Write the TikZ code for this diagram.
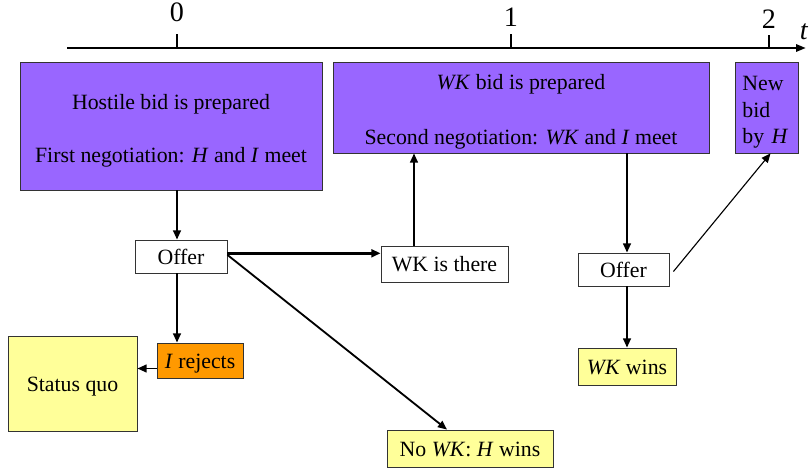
\documentclass[tikz,border=0pt]{standalone}
\usepackage{fontspec}
\setmainfont{Liberation Serif}
\usetikzlibrary{arrows.meta}
\definecolor{boxpurple}{HTML}{9966FF}
\definecolor{boxyellow}{HTML}{FFFF99}
\definecolor{boxorange}{HTML}{FF9900}
\definecolor{boxline}{HTML}{333333}
\tikzset{
  every node/.style={font=\fontsize{15.5}{18.8}\selectfont, inner sep=0pt},
  basebox/.style={draw=boxline, line width=0.6pt, align=center},
  onerow/.style={text height=11pt, text depth=0pt},
  purplebox/.style={basebox, fill=boxpurple},
  whitebox/.style={basebox, onerow, fill=white},
  yellowbox/.style={basebox, onerow, fill=boxyellow},
  orangebox/.style={basebox, onerow, fill=boxorange},
  arr/.style={-{Triangle[length=6.5pt,width=5.5pt]}, line width=1.3pt},
  thickarr/.style={-{Triangle[length=6.5pt,width=5.5pt]}, line width=1.9pt},
  thinarr/.style={-{Triangle[length=6.5pt,width=5.5pt]}, line width=0.8pt},
  ticklab/.style={font=\fontsize{20}{24}\selectfont},
}
\newcommand{\topstrut}{\rule{0pt}{17pt}}
\begin{document}
\begin{tikzpicture}[x=0.025cm, y=-0.025cm]
\useasboundingbox (0,0) rectangle (811,473);
% time axis
\coordinate (axL) at (67,48);
\coordinate (axM) at (680,48);
\coordinate (axR) at (806,48);
\draw[line width=0.8pt] (axL) -- (axM);
\draw[line width=1.8pt, -{Triangle[length=7pt,width=5pt]}] (axM) -- (axR);
\coordinate (t0) at (177,48); \coordinate (t0b) at (177,34);
\coordinate (t1) at (511,48); \coordinate (t1b) at (511,34);
\coordinate (t2) at (769,48); \coordinate (t2b) at (769,35);
\draw[line width=0.8pt] (t0) -- (t0b);
\draw[line width=0.8pt] (t1) -- (t1b);
\draw[line width=0.8pt] (t2) -- (t2b);
\node[ticklab] (l0) at (177,12) {0};
\node[ticklab] (l1) at (511,17) {1};
\node[ticklab] (l2) at (769,19) {2};
\node[ticklab] (lt) at (804,32) {\textit{t}};
% boxes
\node[purplebox, minimum width=7.55cm, minimum height=3.2cm] (hb) at (171,126)
  {\topstrut Hostile bid is prepared\\[18.8pt]First negotiation: \textit{H} and \textit{I} meet};
\node[purplebox, minimum width=9.4cm, minimum height=2.275cm] (wb) at (521,107.5)
  {\topstrut\textit{WK} bid is prepared\\[20.2pt]Second negotiation: \textit{WK} and \textit{I} meet};
\node[purplebox, minimum width=1.575cm, minimum height=2.275cm, align=left, text width=1.2cm] (nb) at (766.5,107.5)
  {\topstrut New\\bid\\by \textit{H}};
\node[whitebox, minimum width=2.3cm, minimum height=0.825cm] (of1) at (181,256.5) {Offer};
\node[whitebox, minimum width=3.175cm, minimum height=0.9cm] (wt) at (444.5,264) {WK is there};
\node[yellowbox, minimum width=3.225cm, minimum height=2.375cm] (sq) at (72.5,383.5) {Status quo};
\node[orangebox, minimum width=2.15cm, minimum height=0.875cm] (ir) at (200,360.5) {\textit{I} rejects};
\node[yellowbox, minimum width=4.15cm, minimum height=0.925cm] (nw) at (470,448.5) {No \textit{WK}: \textit{H} wins};
\node[whitebox, minimum width=2.275cm, minimum height=0.825cm] (of2) at (623.5,269.5) {Offer};
\node[yellowbox, minimum width=2.45cm, minimum height=0.925cm] (ww) at (627,366.5) {\textit{WK} wins};
% connectors
\draw[arr] ([xshift=-0.1cm]of1.north |- hb.south) -- ([xshift=-0.1cm]of1.north);
\draw[arr] ([xshift=-0.1cm]of1.south) -- ([xshift=-0.1cm]of1.south |- ir.north);
\draw[thickarr] ([yshift=0.08cm]of1.east) -- ([yshift=0.08cm]of1.east -| wt.west);
\draw[arr] ([yshift=0.04cm]of1.east) -- ([xshift=-0.575cm]nw.north);
\draw[arr] ([yshift=-0.2cm]ir.west) -- ([yshift=-0.2cm]ir.west -| sq.east);
\draw[arr] ([xshift=-0.7625cm]wt.north) -- ([xshift=-0.7625cm]wt.north |- wb.south);
\draw[arr] ([xshift=0.0875cm]of2.north |- wb.south) -- ([xshift=0.0875cm]of2.north);
\draw[arr] ([xshift=0.0875cm]of2.south) -- ([xshift=0.0875cm]of2.south |- ww.north);
\draw[thinarr] ([xshift=0.1cm,yshift=-0.05cm]of2.east) -- ([xshift=0.1cm]nb.south);
\end{tikzpicture}
\end{document}
